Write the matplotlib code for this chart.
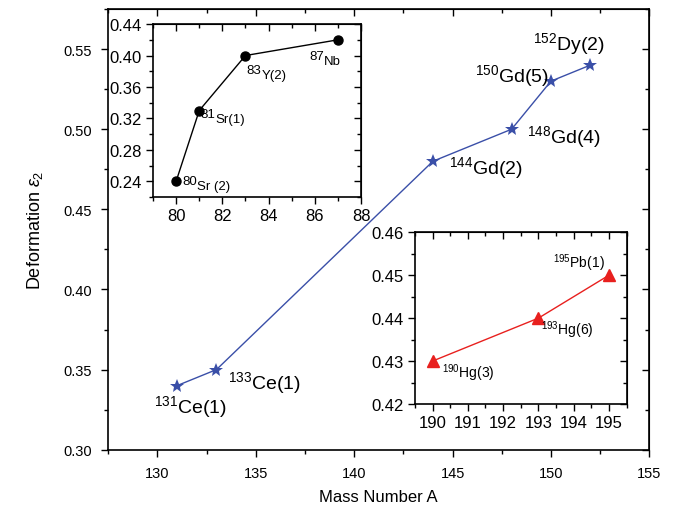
import numpy as np
import matplotlib
matplotlib.use("Agg")
import matplotlib.pyplot as plt
from matplotlib.ticker import MultipleLocator, FormatStrFormatter

plt.rcParams['font.family'] = ['Liberation Sans', 'DejaVu Sans']
plt.rcParams['mathtext.fontset'] = 'custom'
plt.rcParams['mathtext.rm'] = 'Liberation Sans'
plt.rcParams['mathtext.it'] = 'Liberation Sans:italic'

# main data
mass_main = [131, 133, 144, 148, 150, 152]
eps_main = [0.34, 0.35, 0.48, 0.50, 0.53, 0.54]
labels_main = [r'$^{131}$Ce(1)', r'$^{133}$Ce(1)', r'$^{144}$Gd(2)',
               r'$^{148}$Gd(4)', r'$^{150}$Gd(5)', r'$^{152}$Dy(2)']
label_pos_main = [(129.8, 0.327), (133.6, 0.342), (144.8, 0.4767),
                  (148.8, 0.496), (146.15, 0.5337), (149.1, 0.5536)]

# inset 1 (light nuclei): mass number, then lowered name
mass_low = [80, 81, 83, 87]
eps_low = [0.24, 0.33, 0.40, 0.42]
labels_low_a = ['80', '81', '83', '87']
labels_low_b = ['Sr (2)', 'Sr(1)', 'Y(2)', 'Nb']
label_pos_low = [(80.25, 0.2405), (81.07, 0.325), (83.05, 0.382), (85.75, 0.3995)]

# inset 2 (heavy nuclei)
mass_high = [190, 193, 195]
eps_high = [0.43, 0.44, 0.45]
labels_high = [r'$^{190}$Hg(3)', r'$^{193}$Hg(6)', r'$^{195}$Pb(1)']
label_pos_high = [(190.27, 0.4274), (193.07, 0.4375), (193.4, 0.453)]


def style_axes(ax, size, xmaj, xmin, ymaj, ymin, pad):
    ax.xaxis.set_major_locator(MultipleLocator(xmaj))
    ax.xaxis.set_minor_locator(MultipleLocator(xmin))
    ax.yaxis.set_major_locator(MultipleLocator(ymaj))
    ax.yaxis.set_minor_locator(MultipleLocator(ymin))
    ax.yaxis.set_major_formatter(FormatStrFormatter('%.2f'))
    ax.tick_params(which='both', direction='out', labelsize=size, pad=pad)
    ax.tick_params(which='major', length=5, width=1)
    ax.tick_params(which='minor', length=3, width=1)
    # mirrored ticks point inward
    sec_x = ax.secondary_xaxis('top')
    sec_x.xaxis.set_major_locator(MultipleLocator(xmaj))
    sec_x.xaxis.set_minor_locator(MultipleLocator(xmin))
    sec_x.tick_params(which='both', direction='in', labeltop=False)
    sec_x.tick_params(which='major', length=5, width=1)
    sec_x.tick_params(which='minor', length=3, width=1)
    sec_y = ax.secondary_yaxis('right')
    sec_y.yaxis.set_major_locator(MultipleLocator(ymaj))
    sec_y.yaxis.set_minor_locator(MultipleLocator(ymin))
    sec_y.tick_params(which='both', direction='in', labelright=False)
    sec_y.tick_params(which='major', length=5, width=1)
    sec_y.tick_params(which='minor', length=3, width=1)
    for s in ax.spines.values():
        s.set_linewidth(1.2)


fig = plt.figure(figsize=(6.78, 5.1), dpi=100)

ax = fig.add_axes([0.1597, 0.1163, 0.798, 0.864])
ax.plot(mass_main, eps_main, color='#3a4fa8', lw=1, marker='*',
        markersize=10, markeredgewidth=0)
ax.set_xlim(127.5, 155)
ax.set_ylim(0.30, 0.575)
style_axes(ax, 10.5, 5, 2.5, 0.05, 0.025, 7)
ax.set_xlabel('Mass Number A', fontsize=12, labelpad=6)
ax.set_ylabel(r'Deformation $\varepsilon_2$', fontsize=13, labelpad=13)
for lab, (tx, ty) in zip(labels_main, label_pos_main):
    ax.text(tx, ty, lab, fontsize=14, ha='left', va='center')

# inset 1
ax1 = fig.add_axes([0.2257, 0.6118, 0.3068, 0.339])
ax1.plot(mass_low, eps_low, color='black', lw=1, marker='o',
         markersize=6.5)
ax1.set_xlim(79, 88)
ax1.set_ylim(0.22, 0.44)
style_axes(ax1, 12, 2, 1, 0.04, 0.02, 3)
for la, lb, (tx, ty) in zip(labels_low_a, labels_low_b, label_pos_low):
    t1 = ax1.text(tx, ty, la, fontsize=9.5, ha='left', va='center')
    ax1.annotate(lb, xy=(1, 0), xycoords=t1, xytext=(0, -3.5),
                 textcoords='offset points', fontsize=9.5,
                 ha='left', va='bottom')

# inset 2
ax2 = fig.add_axes([0.612, 0.2059, 0.3122, 0.3367])
ax2.plot(mass_high, eps_high, color='#e8201e', lw=1, marker='^',
         markersize=8)
ax2.set_xlim(189.5, 195.5)
ax2.set_ylim(0.42, 0.46)
style_axes(ax2, 12, 1, 0.5, 0.01, 0.005, 3)
for lab, (tx, ty) in zip(labels_high, label_pos_high):
    ax2.text(tx, ty, lab, fontsize=10, ha='left', va='center')

fig.savefig('out.png', dpi=100)
